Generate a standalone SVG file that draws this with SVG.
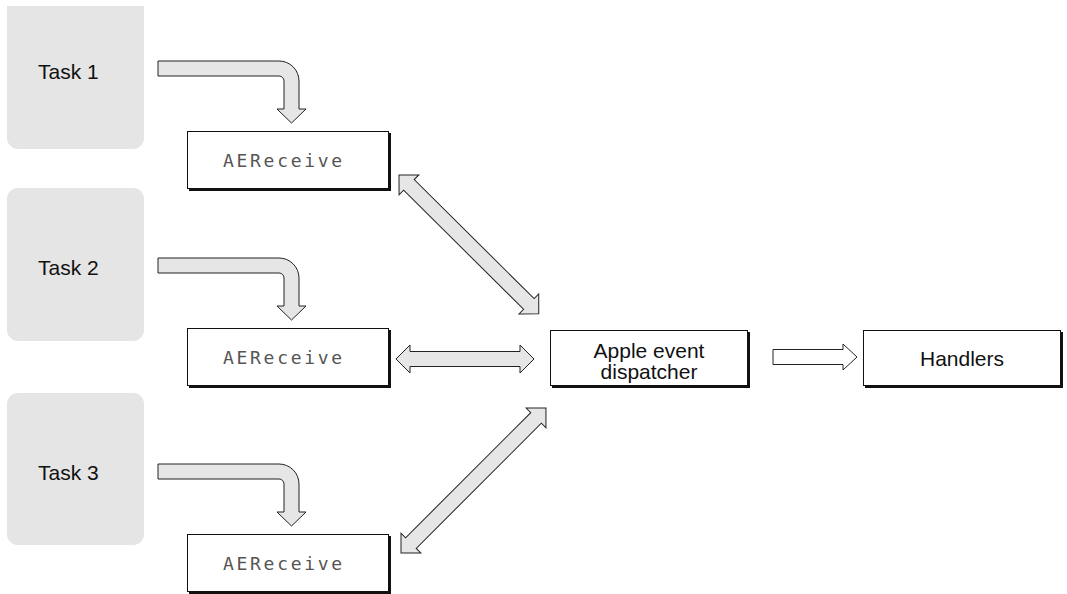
<svg xmlns="http://www.w3.org/2000/svg" width="1067" height="594" viewBox="0 0 1067 594">
<style>
.task{fill:#e5e5e5;}
.tlab{font-family:"Liberation Sans",Arial,sans-serif;font-size:21px;fill:#111;}
.box{fill:#fff;stroke:#111;stroke-width:1;}
.shadow{fill:#111;}
.mono{font-family:"DejaVu Sans Mono","Liberation Mono",monospace;font-size:18px;fill:#555;letter-spacing:2.7px;}
.lab{font-family:"Liberation Sans",Arial,sans-serif;font-size:21px;fill:#111;text-anchor:middle;}
.garrow{fill:#e6e6e6;stroke:#222;stroke-width:1;stroke-linejoin:miter;}
.warrow{fill:#fff;stroke:#222;stroke-width:1;}
</style>
<rect width="1067" height="594" fill="#fff"/>
<g id="task1"><path class="task" d="M7,6 L144,6 L144,138 A11,11 0 0 1 133,149 L18,149 A11,11 0 0 1 7,138 Z"/><text class="tlab" x="38" y="79">Task 1</text></g>
<g id="task2"><rect class="task" x="7" y="188" width="137" height="153" rx="11"/><text class="tlab" x="38" y="275">Task 2</text></g>
<g id="task3"><rect class="task" x="7" y="393" width="137" height="152" rx="11"/><text class="tlab" x="38" y="480">Task 3</text></g>
<g id="aereceive1"><rect class="shadow" x="189" y="133" width="202" height="58"/><rect class="box" x="187.5" y="131.5" width="201" height="57"/><text class="mono" x="223" y="167">AEReceive</text></g>
<g id="aereceive2"><rect class="shadow" x="189" y="330" width="202" height="58"/><rect class="box" x="187.5" y="328.5" width="201" height="57"/><text class="mono" x="223" y="364">AEReceive</text></g>
<g id="aereceive3"><rect class="shadow" x="189" y="536" width="202" height="58"/><rect class="box" x="187.5" y="534.5" width="201" height="57"/><text class="mono" x="223" y="570">AEReceive</text></g>
<g id="dispatcher"><rect class="shadow" x="552" y="332" width="198" height="56"/><rect class="box" x="550.5" y="330.5" width="197" height="55"/><text class="lab" x="649" y="358">Apple event</text><text class="lab" x="649" y="379">dispatcher</text></g>
<g id="handlers"><rect class="shadow" x="865" y="332" width="198" height="56"/><rect class="box" x="863.5" y="330.5" width="197" height="55"/><text class="lab" x="962" y="366">Handlers</text></g>
<g id="connectors">
<path class="garrow" d="M158,61 L279,61 A20,20 0 0 1 299,81 L299,109 L306,109 L291.5,123 L277,109 L284,109 L284,81 A5,5 0 0 0 279,76 L158,76 Z"/>
<path class="garrow" transform="translate(0,197)" d="M158,61 L279,61 A20,20 0 0 1 299,81 L299,109 L306,109 L291.5,123 L277,109 L284,109 L284,81 A5,5 0 0 0 279,76 L158,76 Z"/>
<path class="garrow" transform="translate(0,403)" d="M158,61 L279,61 A20,20 0 0 1 299,81 L299,109 L306,109 L291.5,123 L277,109 L284,109 L284,81 A5,5 0 0 0 279,76 L158,76 Z"/>
<path class="garrow" transform="translate(399,175) rotate(44.8)" d="M0,0 L14,-14 L14,-7.5 L183,-7.5 L183,-14 L197,0 L183,14 L183,7.5 L14,7.5 L14,14 Z"/>
<path class="garrow" transform="translate(396,359)" d="M0,0 L14,-14 L14,-7.5 L124,-7.5 L124,-14 L138,0 L124,14 L124,7.5 L14,7.5 L14,14 Z"/>
<path class="garrow" transform="translate(401,553) rotate(-45)" d="M0,0 L14,-14 L14,-7.5 L191,-7.5 L191,-14 L205,0 L191,14 L191,7.5 L14,7.5 L14,14 Z"/>
<path class="warrow" d="M773,349.5 L843,349.5 L843,344 L857,357 L843,370 L843,364.5 L773,364.5 Z"/>
</g>
</svg>
